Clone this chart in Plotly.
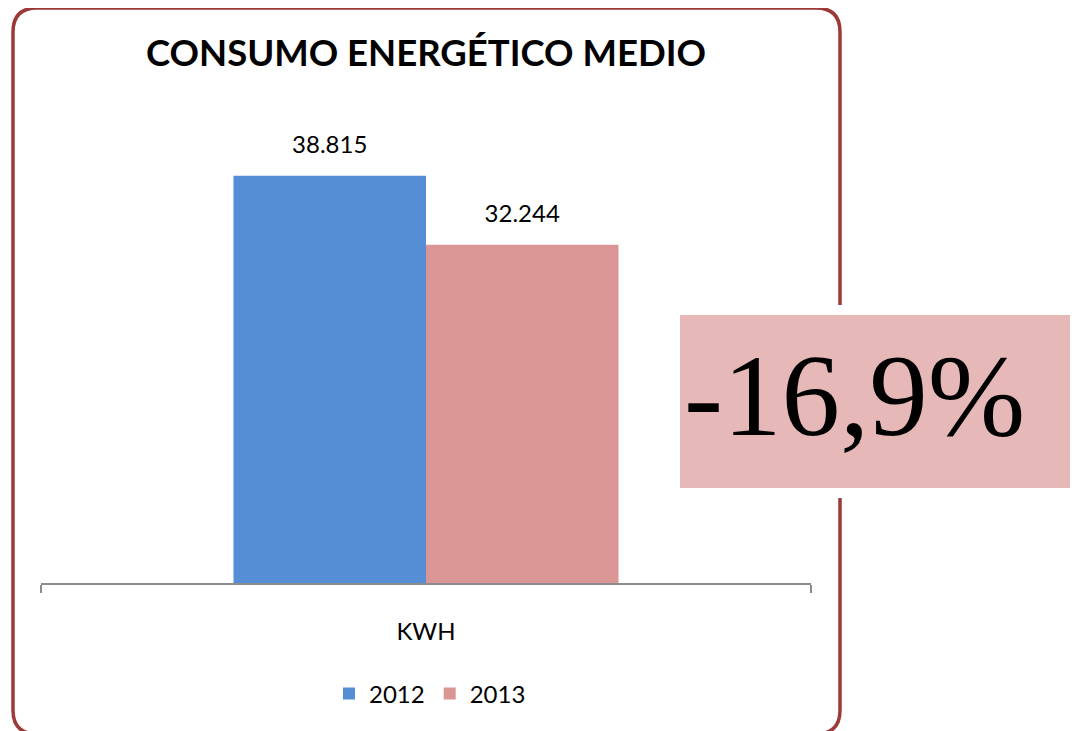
import plotly.graph_objects as go

# datos del gráfico
categorias = ["KWH"]
anios = ["2012", "2013"]
consumo_2012 = [38815]
consumo_2013 = [32244]
colores = ["#558ED5", "#D99694"]

# la página deja 8px de margen en el body
OFF = 8
W, H = 1070, 723

def px(x):
    return (x - OFF) / W

def py(y):
    return 1 - (y - OFF) / H

variacion = (consumo_2013[0] - consumo_2012[0]) / consumo_2012[0] * 100
texto_var = f"{variacion:.1f}%".replace(".", ",")

fig = go.Figure()
for anio, valores, color in zip(anios, [consumo_2012, consumo_2013], colores):
    fig.add_trace(go.Bar(
        x=categorias, y=valores, name=anio,
        marker=dict(color=color, line=dict(width=0)),
        hoverinfo="x+y",
    ))
# etiquetas de datos, agrupadas igual que las barras
for valores in [consumo_2012, consumo_2013]:
    fig.add_trace(go.Scatter(
        x=categorias, y=valores, mode="markers+text",
        marker=dict(size=26, opacity=0), texttemplate="%{y:,}",
        textposition="top center", textfont=dict(size=24, color="#000000"),
        showlegend=False, hoverinfo="skip", cliponaxis=False,
    ))

# marco redondeado (el borde inferior queda casi fuera de la imagen)
x0, x1, y0, y1 = px(13), px(840), py(734), py(8)
rx, ry = 24 / W, 24 / H
marco = (f"M {x0+rx},{y1} L {x1-rx},{y1} Q {x1},{y1} {x1},{y1-ry} "
         f"L {x1},{y0+ry} Q {x1},{y0} {x1-rx},{y0} "
         f"L {x0+rx},{y0} Q {x0},{y0} {x0},{y0+ry} "
         f"L {x0},{y1-ry} Q {x0},{y1} {x0+rx},{y1} Z")

fig.update_layout(
    width=W, height=H,
    separators=",.",
    barmode="group", bargap=0.5, bargroupgap=0,
    scattermode="group", scattergap=0.5,
    font=dict(family="Lato, Open Sans, sans-serif", color="#000000"),
    title=dict(text="<b>CONSUMO ENERGÉTICO MEDIO</b>", font=dict(size=36.5, color="#000000"),
               x=px(426), y=py(53), xanchor="center", yanchor="middle"),
    margin=dict(l=0, r=0, t=0, b=0),
    paper_bgcolor="white", plot_bgcolor="white",
    xaxis=dict(domain=[px(41), px(811)], type="category", showline=True,
               linecolor="#8C8C8C", linewidth=2, ticks="outside", tickson="boundaries",
               ticklen=8, tickwidth=2, tickcolor="#8C8C8C", showgrid=False,
               tickfont=dict(size=24), ticklabelstandoff=26, fixedrange=True),
    yaxis=dict(domain=[py(583), py(111)], range=[0, 45000], visible=False,
               showgrid=False, zeroline=False, fixedrange=True),
    legend=dict(orientation="h", x=px(430), y=py(694), xanchor="center", yanchor="middle",
                font=dict(size=24), bgcolor="rgba(0,0,0,0)"),
    showlegend=True,
    shapes=[
        dict(type="path", xref="paper", yref="paper", path=marco,
             line=dict(color="#9B3A37", width=3.5)),
        dict(type="rect", xref="paper", yref="paper",
             x0=px(670), x1=px(1078), y0=py(498), y1=py(305),
             fillcolor="white", line=dict(width=0)),
        dict(type="rect", xref="paper", yref="paper",
             x0=px(680), x1=px(1075), y0=py(488), y1=py(315),
             fillcolor="#E6B8B7", line=dict(width=0)),
    ],
    annotations=[
        dict(text=texto_var, xref="paper", yref="paper", x=px(682), y=py(395),
             xanchor="left", yanchor="middle", showarrow=False,
             font=dict(family="Liberation Serif, Times New Roman, serif", size=117, color="#000000")),
    ],
)

fig.write_html("out.html")
